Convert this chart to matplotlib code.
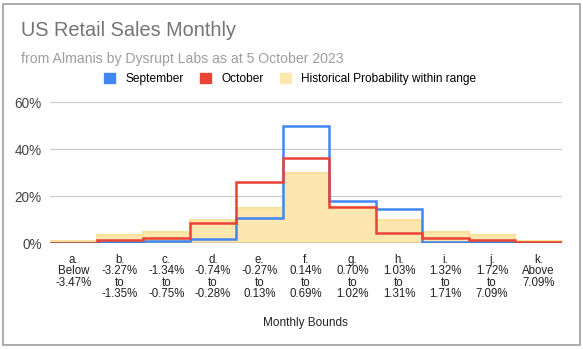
import matplotlib.pyplot as plt
import matplotlib.patches as mpatches
import numpy as np

plt.rcParams['font.family'] = ['Liberation Sans', 'DejaVu Sans']

# Bucket labels and probability (%) per bucket
buckets = ['a.\nBelow\n-3.47%', 'b.\n-3.27%\nto\n-1.35%', 'c.\n-1.34%\nto\n-0.75%',
           'd.\n-0.74%\nto\n-0.28%', 'e.\n-0.27%\nto\n0.13%', 'f.\n0.14%\nto\n0.69%',
           'g.\n0.70%\nto\n1.02%', 'h.\n1.03%\nto\n1.31%', 'i.\n1.32%\nto\n1.71%',
           'j.\n1.72%\nto\n7.09%', 'k.\nAbove\n7.09%']
september = [0.2, 0.6, 1.0, 2.0, 10.6, 50.0, 18.0, 14.6, 0.6, 0.7, 0.1]
october = [0.2, 1.5, 2.1, 8.5, 26.0, 36.4, 15.5, 4.2, 2.1, 1.5, 0.5]
historical = [1.0, 3.7, 4.7, 9.8, 15.0, 30.0, 15.3, 9.9, 4.8, 3.7, 1.0]

edges = np.arange(len(buckets) + 1)
centers = edges[:-1] + 0.5

fig = plt.figure(figsize=(5.83, 3.49), dpi=100)
ax = fig.add_axes([0.0858, 0.303, 0.878, 0.404])

ax.stairs(historical, edges, fill=True, color='#fde7ae', zorder=2)
ax.stairs(historical, edges, color='#fbe09a', linewidth=1.5, zorder=2)
ax.stairs(september, edges, color='#4285f4', linewidth=1.8, zorder=3)
ax.stairs(october, edges, color='#ea4335', linewidth=1.8, zorder=4)

ax.set_xlim(0, len(buckets))
ax.set_ylim(0, 60)
ax.set_yticks([0, 20, 40, 60])
ax.set_yticklabels(['0%', '20%', '40%', '60%'], fontsize=9.8, color='#444444')
ax.set_xticks(centers)
ax.set_xticklabels(buckets, fontsize=8.3, color='#222222', linespacing=0.95)
ax.tick_params(axis='both', length=0)
ax.tick_params(axis='x', pad=7.5)
ax.tick_params(axis='y', pad=6)
ax.grid(axis='y', color='#cccccc', linewidth=0.9, zorder=0)
ax.axhline(0, color='#555555', linewidth=1.0, zorder=5)
for s in ax.spines.values():
    s.set_visible(False)

fig.text(0.036, 1 - 31 / 349, 'US Retail Sales Monthly', fontsize=14.3,
         color='#757575', va='center')
fig.text(0.036, 1 - 59 / 349, 'from Almanis by Dysrupt Labs as at 5 October 2023',
         fontsize=10.1, color='#9e9e9e', va='center')
fig.text(0.524, 1 - 323 / 349, 'Monthly Bounds', fontsize=8.5, color='#222222',
         ha='center', va='center')

handles = [mpatches.Patch(color='#4285f4', label='September'),
           mpatches.Patch(color='#ea4335', label='October'),
           mpatches.Patch(color='#fde7ae', label='Historical Probability within range')]
fig.legend(handles=handles, ncol=3, loc='center', bbox_to_anchor=(0.498, 1 - 79 / 349),
           frameon=False, fontsize=8.6, handlelength=0.95, handleheight=1.0,
           handletextpad=0.85, columnspacing=1.35)

# thin grey frame around the whole chart
fig.patches.append(mpatches.Rectangle((0.0043, 0.0115), 0.9897, 0.977, transform=fig.transFigure,
                                      fill=False, edgecolor='#9e9e9e', linewidth=1.2))

fig.savefig('out.png', dpi=100)
